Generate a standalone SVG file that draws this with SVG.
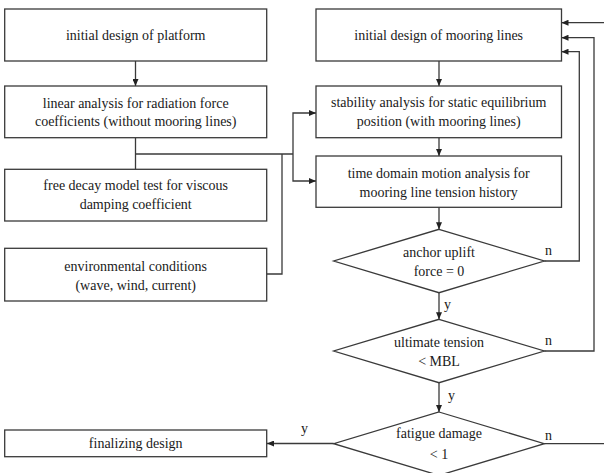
<svg xmlns="http://www.w3.org/2000/svg" width="604" height="473" viewBox="0 0 604 473">
<style>
.box{fill:#fff;stroke:#3a3a3a;stroke-width:1.3}
.dia{fill:#fff;stroke:#3a3a3a;stroke-width:1.3}
.ln{fill:none;stroke:#3a3a3a;stroke-width:1.3}
.ar{fill:none;stroke:#3a3a3a;stroke-width:1.3;marker-end:url(#ah)}
text{font-family:"Liberation Serif","Times New Roman",serif;font-size:14px;fill:#1a1a1a;text-anchor:middle}
.lbl{text-anchor:start}
</style>
<defs>
<marker id="ah" markerUnits="userSpaceOnUse" markerWidth="7" markerHeight="6" refX="7" refY="3" orient="auto">
<path d="M0,0 L7,3 L0,6 z" fill="#222"/>
</marker>
</defs>
<rect width="604" height="473" fill="#fff"/>
<g id="connectors">
<line class="ar" x1="135.5" y1="61" x2="135.5" y2="86"/>
<line class="ln" x1="135.5" y1="138" x2="135.5" y2="169"/>
<polyline class="ln" points="135.5,154 293,154"/>
<polyline class="ar" points="293,154 293,113 316,113"/>
<polyline class="ar" points="293,154 293,181 316,181"/>
<polyline class="ln" points="267,274 282,274 282,154"/>
<line class="ar" x1="439" y1="61" x2="439" y2="86"/>
<line class="ar" x1="439" y1="138" x2="439" y2="156"/>
<line class="ar" x1="439" y1="207" x2="439" y2="229.3"/>
<line class="ar" x1="439" y1="292.7" x2="439" y2="319.3"/>
<line class="ar" x1="439" y1="382.7" x2="439" y2="412"/>
<polyline class="ar" points="544.3,261 579.3,261 579.3,51.7 561.5,51.7"/>
<polyline class="ar" points="544.3,351 594,351 594,37.7 561.5,37.7"/>
<polyline class="ar" points="605,22.7 561.5,22.7"/>
<line class="ln" x1="544.3" y1="443.7" x2="605" y2="443.7"/>
<line class="ar" x1="333.7" y1="443.5" x2="267" y2="443.5"/>
<text class="lbl" x="545" y="255">n</text>
<text class="lbl" x="545" y="345">n</text>
<text class="lbl" x="545" y="440">n</text>
<text class="lbl" x="444" y="309">y</text>
<text class="lbl" x="448" y="400">y</text>
<text class="lbl" x="301" y="433">y</text>
</g>
<g id="platform">
<rect class="box" x="4.7" y="9" width="262" height="52"/>
<text x="135.7" y="39.5">initial design of platform</text>
</g>
<g id="linear">
<rect class="box" x="4.7" y="86" width="262" height="51.7"/>
<text x="135.7" y="107.5">linear analysis for radiation force</text>
<text x="135.7" y="126">coefficients (without mooring lines)</text>
</g>
<g id="decay">
<rect class="box" x="4.7" y="169.3" width="262" height="51.7"/>
<text x="135.7" y="190">free decay model test for viscous</text>
<text x="135.7" y="208.5">damping coefficient</text>
</g>
<g id="environment">
<rect class="box" x="4.7" y="248.3" width="262" height="52.7"/>
<text x="135.7" y="271">environmental conditions</text>
<text x="135.7" y="290">(wave, wind, current)</text>
</g>
<g id="finalizing">
<rect class="box" x="4.7" y="430" width="262" height="26.7"/>
<text x="135.7" y="448">finalizing design</text>
</g>
<g id="mooring">
<rect class="box" x="316" y="9" width="245.5" height="52"/>
<text x="438.7" y="39.5">initial design of mooring lines</text>
</g>
<g id="stability">
<rect class="box" x="316" y="86" width="245.5" height="51.7"/>
<text x="438.7" y="107">stability analysis for static equilibrium</text>
<text x="438.7" y="126">position (with mooring lines)</text>
</g>
<g id="timedomain">
<rect class="box" x="316" y="156" width="245.5" height="51.3"/>
<text x="438.7" y="177.5">time domain motion analysis for</text>
<text x="438.7" y="196.5">mooring line tension history</text>
</g>
<g id="anchor">
<polygon class="dia" points="439,229.3 544.3,261 439,292.7 333.7,261"/>
<text x="439" y="256.5">anchor uplift</text>
<text x="439" y="276">force = 0</text>
</g>
<g id="ultimate">
<polygon class="dia" points="439,319.3 544.3,351 439,382.7 333.7,351"/>
<text x="439" y="346.5">ultimate tension</text>
<text x="439" y="366">&lt; MBL</text>
</g>
<g id="fatigue">
<polygon class="dia" points="439,412 544.3,443.7 439,475.4 333.7,443.7"/>
<text x="439" y="438">fatigue damage</text>
<text x="439" y="459">&lt; 1</text>
</g>
</svg>
